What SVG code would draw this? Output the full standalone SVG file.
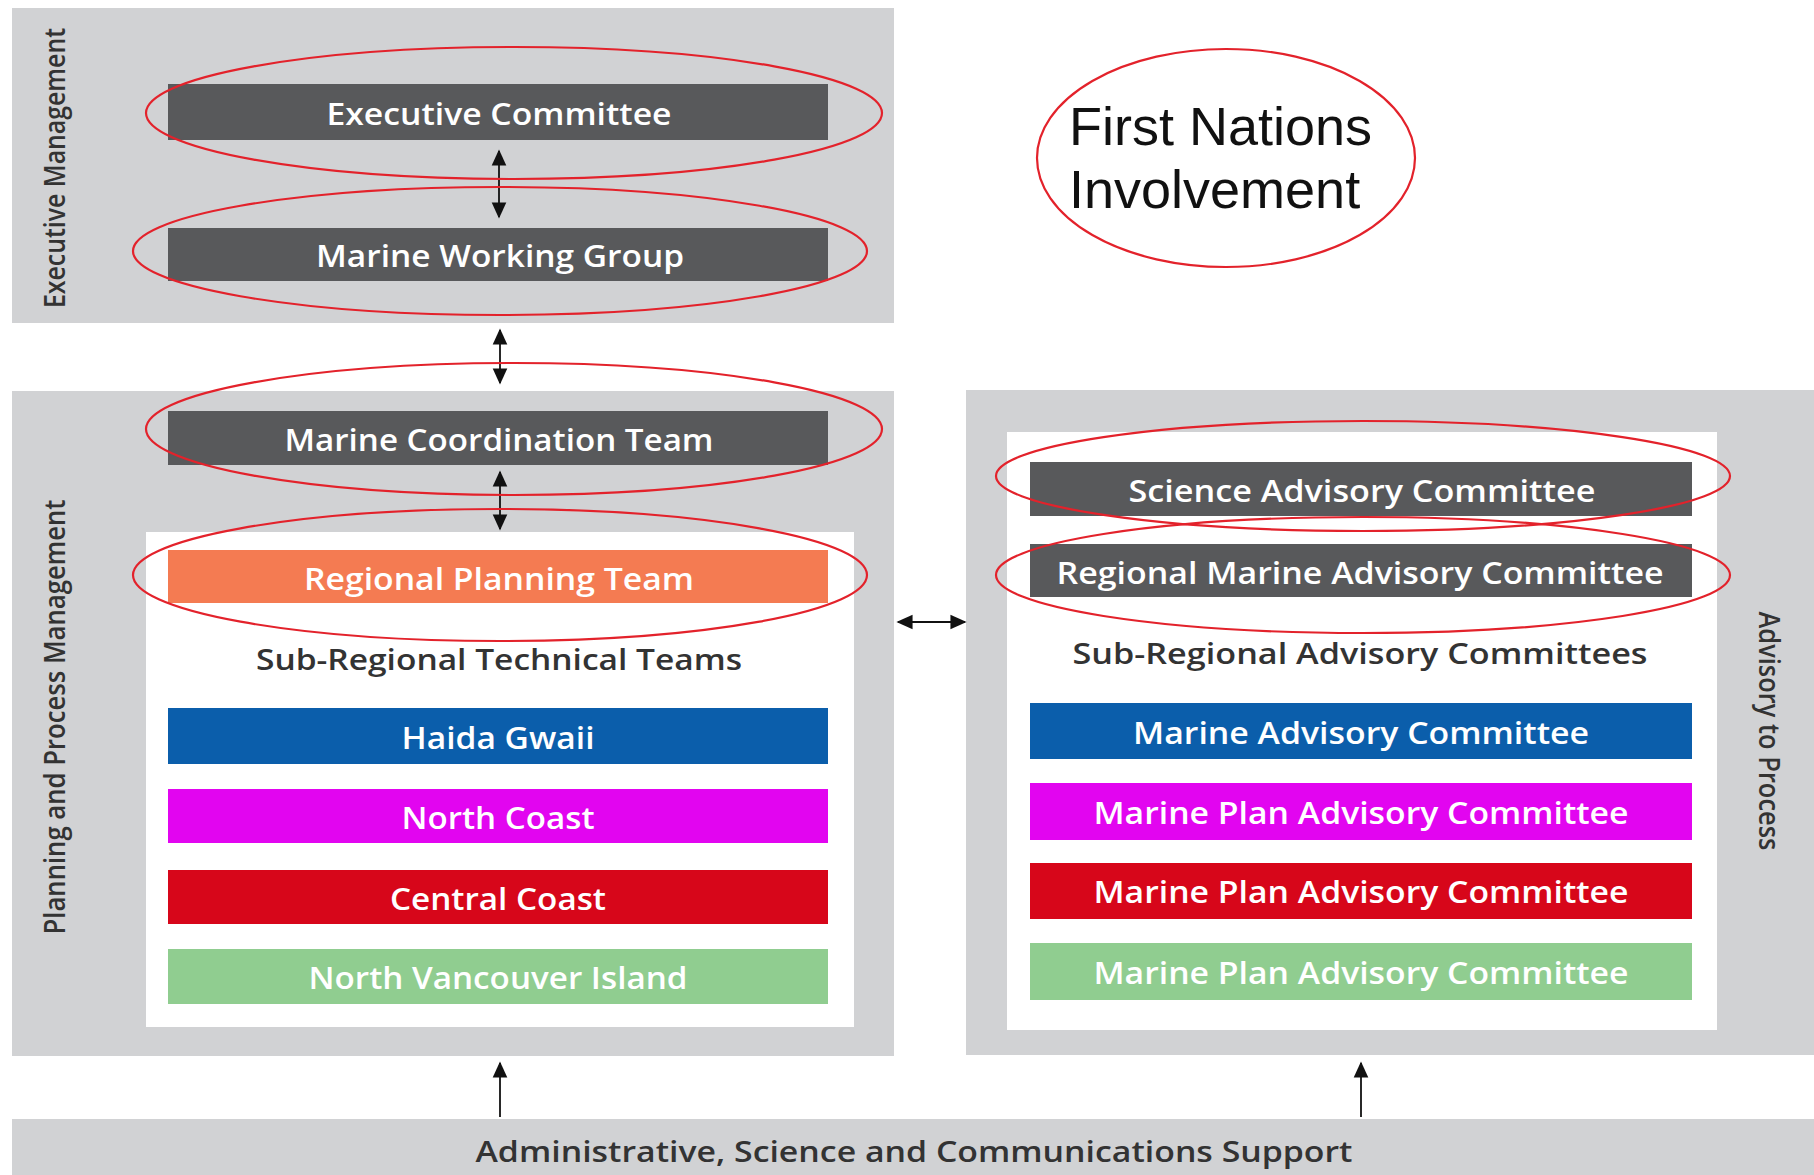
<svg xmlns="http://www.w3.org/2000/svg" width="1814" height="1175" viewBox="0 0 1814 1175">
  <style>
    .panel { fill: #D1D2D4; }
    .inner { fill: #FFFFFF; }
    .dark { fill: #58595B; }
    .bar-text { font-family: "Open Sans", "Liberation Sans", sans-serif; font-weight: 600; font-size: 30px; fill: #FFFFFF; text-anchor: middle; dominant-baseline: central; }
    .sub-text { font-family: "Open Sans", "Liberation Sans", sans-serif; font-weight: 600; font-size: 29px; fill: #333333; text-anchor: middle; dominant-baseline: central; }
    .side-text { font-family: "Open Sans", "Liberation Sans", sans-serif; font-weight: 600; font-size: 28px; fill: #333333; text-anchor: middle; dominant-baseline: central; }
    .ring { fill: none; stroke: #E3222B; stroke-width: 2.2; }
    .link { stroke: #111111; stroke-width: 1.8; fill: none; }
  </style>
  <defs>
    <marker id="head" viewBox="0 0 10 10" refX="9" refY="5" markerWidth="9" markerHeight="9" markerUnits="strokeWidth" orient="auto-start-reverse">
      <path d="M0,0.5 L10,5 L0,9.5 Z" fill="#111111"/>
    </marker>
  </defs>

  <rect width="1814" height="1175" fill="#FFFFFF"/>

  <!-- Executive Management panel -->
  <g id="executive-management">
    <rect class="panel" x="12" y="8" width="882" height="315"/>
    <text class="side-text" transform="translate(54 168) rotate(-90)" textLength="280" lengthAdjust="spacingAndGlyphs">Executive Management</text>
  </g>
  <g id="executive-committee">
    <rect class="dark" x="168" y="84" width="660" height="56"/>
    <text class="bar-text" x="499" y="113" textLength="345" lengthAdjust="spacingAndGlyphs">Executive Committee</text>
  </g>
  <g id="marine-working-group">
    <rect class="dark" x="168" y="228" width="660" height="53"/>
    <text class="bar-text" x="500" y="255" textLength="368" lengthAdjust="spacingAndGlyphs">Marine Working Group</text>
  </g>

  <!-- Planning and Process Management panel -->
  <g id="planning-management">
    <rect class="panel" x="12" y="391" width="882" height="665"/>
    <rect class="inner" x="146" y="532" width="708" height="495"/>
    <text class="side-text" transform="translate(54 717) rotate(-90)" textLength="435" lengthAdjust="spacingAndGlyphs">Planning and Process Management</text>
  </g>
  <g id="marine-coordination-team">
    <rect class="dark" x="168" y="411" width="660" height="54"/>
    <text class="bar-text" x="499" y="439" textLength="429" lengthAdjust="spacingAndGlyphs">Marine Coordination Team</text>
  </g>
  <g id="regional-planning-team">
    <rect x="168" y="550" width="660" height="53" fill="#F47B52"/>
    <text class="bar-text" x="499" y="578" textLength="390" lengthAdjust="spacingAndGlyphs">Regional Planning Team</text>
  </g>
  <g id="sub-regional-technical-teams">
    <text class="sub-text" x="499" y="658" textLength="486" lengthAdjust="spacingAndGlyphs">Sub-Regional Technical Teams</text>
  </g>
  <g id="haida-gwaii">
    <rect x="168" y="708" width="660" height="56" fill="#0B5EAB"/>
    <text class="bar-text" x="498" y="737" textLength="193" lengthAdjust="spacingAndGlyphs">Haida Gwaii</text>
  </g>
  <g id="north-coast">
    <rect x="168" y="789" width="660" height="54" fill="#E205F0"/>
    <text class="bar-text" x="498" y="817" textLength="193" lengthAdjust="spacingAndGlyphs">North Coast</text>
  </g>
  <g id="central-coast">
    <rect x="168" y="870" width="660" height="54" fill="#D7061A"/>
    <text class="bar-text" x="498" y="898" textLength="216" lengthAdjust="spacingAndGlyphs">Central Coast</text>
  </g>
  <g id="north-vancouver-island">
    <rect x="168" y="949" width="660" height="55" fill="#90CD90"/>
    <text class="bar-text" x="498" y="977" textLength="379" lengthAdjust="spacingAndGlyphs">North Vancouver Island</text>
  </g>

  <!-- Advisory to Process panel -->
  <g id="advisory-panel">
    <rect class="panel" x="966" y="390" width="848" height="665"/>
    <rect class="inner" x="1007" y="432" width="710" height="598"/>
    <text class="side-text" transform="translate(1770 731) rotate(90)" textLength="239" lengthAdjust="spacingAndGlyphs">Advisory to Process</text>
  </g>
  <g id="science-advisory-committee">
    <rect class="dark" x="1030" y="462" width="662" height="54"/>
    <text class="bar-text" x="1362" y="490" textLength="467" lengthAdjust="spacingAndGlyphs">Science Advisory Committee</text>
  </g>
  <g id="regional-marine-advisory-committee">
    <rect class="dark" x="1030" y="544" width="662" height="53"/>
    <text class="bar-text" x="1360" y="572" textLength="607" lengthAdjust="spacingAndGlyphs">Regional Marine Advisory Committee</text>
  </g>
  <g id="sub-regional-advisory-committees">
    <text class="sub-text" x="1360" y="652" textLength="575" lengthAdjust="spacingAndGlyphs">Sub-Regional Advisory Committees</text>
  </g>
  <g id="marine-advisory-committee">
    <rect x="1030" y="703" width="662" height="56" fill="#0B5EAB"/>
    <text class="bar-text" x="1361" y="732" textLength="456" lengthAdjust="spacingAndGlyphs">Marine Advisory Committee</text>
  </g>
  <g id="marine-plan-advisory-committee-1">
    <rect x="1030" y="783" width="662" height="57" fill="#E205F0"/>
    <text class="bar-text" x="1361" y="812" textLength="535" lengthAdjust="spacingAndGlyphs">Marine Plan Advisory Committee</text>
  </g>
  <g id="marine-plan-advisory-committee-2">
    <rect x="1030" y="863" width="662" height="56" fill="#D7061A"/>
    <text class="bar-text" x="1361" y="891" textLength="535" lengthAdjust="spacingAndGlyphs">Marine Plan Advisory Committee</text>
  </g>
  <g id="marine-plan-advisory-committee-3">
    <rect x="1030" y="943" width="662" height="57" fill="#90CD90"/>
    <text class="bar-text" x="1361" y="972" textLength="535" lengthAdjust="spacingAndGlyphs">Marine Plan Advisory Committee</text>
  </g>

  <!-- Support strip -->
  <g id="support">
    <rect class="panel" x="12" y="1119" width="1802" height="56"/>
    <text class="sub-text" x="914" y="1150" textLength="877" lengthAdjust="spacingAndGlyphs">Administrative, Science and Communications Support</text>
  </g>

  <!-- First Nations involvement -->
  <g id="first-nations">
    <ellipse class="ring" cx="1226" cy="158" rx="189" ry="109"/>
    <text font-family="'Liberation Sans', Arial, sans-serif" font-size="54" fill="#111111" x="1069" y="145">First Nations</text>
    <text font-family="'Liberation Sans', Arial, sans-serif" font-size="54" fill="#111111" x="1069" y="208">Involvement</text>
  </g>

  <!-- Connectors -->
  <g id="connectors">
    <line class="link" x1="499" y1="151" x2="499" y2="217" marker-start="url(#head)" marker-end="url(#head)"/>
    <line class="link" x1="500" y1="330" x2="500" y2="383" marker-start="url(#head)" marker-end="url(#head)"/>
    <line class="link" x1="500" y1="472" x2="500" y2="529" marker-start="url(#head)" marker-end="url(#head)"/>
    <line class="link" x1="898" y1="622" x2="965" y2="622" marker-start="url(#head)" marker-end="url(#head)"/>
    <line class="link" x1="500" y1="1117" x2="500" y2="1063" marker-end="url(#head)"/>
    <line class="link" x1="1361" y1="1117" x2="1361" y2="1063" marker-end="url(#head)"/>
  </g>

  <!-- Highlight rings -->
  <g id="highlights">
    <ellipse class="ring" cx="514" cy="113" rx="368" ry="66"/>
    <ellipse class="ring" cx="500" cy="251" rx="367" ry="64"/>
    <ellipse class="ring" cx="514" cy="429" rx="368" ry="66"/>
    <ellipse class="ring" cx="500" cy="575" rx="367" ry="66"/>
    <ellipse class="ring" cx="1363" cy="476" rx="367" ry="55"/>
    <ellipse class="ring" cx="1363" cy="575" rx="367" ry="58"/>
  </g>
</svg>
